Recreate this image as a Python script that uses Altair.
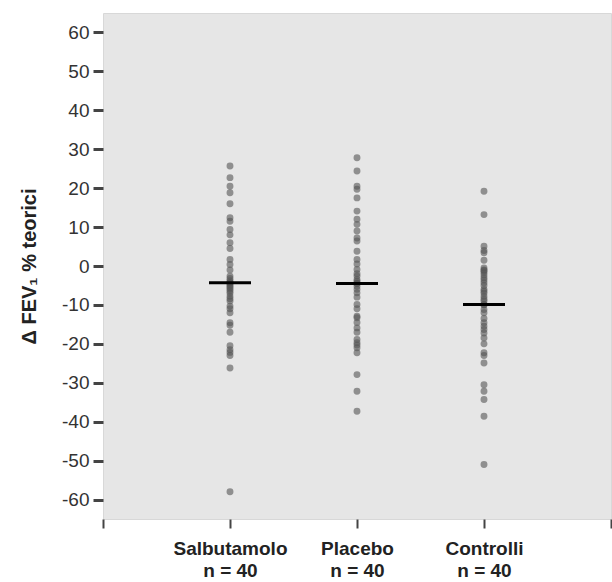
import altair as alt
import pandas as pd

groups = ["Salbutamolo", "Placebo", "Controlli"]
group_pos = [1, 2, 3]
n_labels = ["n = 40", "n = 40", "n = 40"]

salbutamolo = [25.7, 22.7, 18.8, 16.0, 12.4, 11.5, 9.4, 8.0, 6.0, 4.5, 1.7, 0.4, -1.0, -2.6,
               -3.2, -3.8, -4.3, -4.3, -4.8, -5.2, -5.6, -6.0, -6.5, -7.0, -7.8, -8.4, -9.0,
               -10.3, -11.0, -12.0, -14.6, -15.2, -17.0, -20.5, -21.5, -22.2, -23.0, -26.2,
               -58.0, 20.5]
placebo = [27.8, 24.4, 20.5, 19.7, 17.5, 14.1, 12.0, 10.7, 9.0, 7.2, 6.4, 3.8, 1.7, 0.5,
           -0.9, -2.0, -2.6, -3.5, -4.0, -4.5, -4.5, -5.2, -6.0, -6.9, -8.0, -9.9, -11.0,
           -12.9, -13.3, -15.9, -17.0, -18.9, -19.7, -21.0, -22.3, -27.9, -32.2, -37.3,
           -14.5, -20.3]
controlli = [19.2, 13.2, 5.1, 4.0, 3.4, 1.5, -0.5, -1.0, -1.7, -2.3, -3.0, -3.6, -4.3, -5.0,
             -6.0, -7.0, -7.8, -8.5, -9.0, -9.9, -10.0, -11.2, -12.0, -13.5, -14.6, -15.5,
             -16.3, -17.2, -18.5, -22.3, -23.0, -24.9, -30.5, -32.2, -34.3, -38.6, -51.0,
             -1.2, -6.5, -20.0]
medians = [-4.3, -4.5, -9.9]

y_ticks = [-60, -50, -40, -30, -20, -10, 0, 10, 20, 30, 40, 50, 60]
x_ticks = [0, 1, 2, 3, 4]

rows = []
for g, p, vals in zip(groups, group_pos, [salbutamolo, placebo, controlli]):
    for v in vals:
        rows.append({"group": g, "pos": p, "value": v})
df = pd.DataFrame(rows)
med_df = pd.DataFrame({"group": groups, "pos": group_pos, "median": medians})

label_expr = ("datum.value == 1 ? ['Salbutamolo', 'n = 40'] : "
              "datum.value == 2 ? ['Placebo', 'n = 40'] : "
              "datum.value == 3 ? ['Controlli', 'n = 40'] : ''")

x_enc = alt.X("pos:Q", scale=alt.Scale(domain=[0, 4], nice=False, zero=False),
              axis=alt.Axis(values=x_ticks, labelExpr=label_expr, title=None,
                            domain=False, grid=False, tickSize=9, tickWidth=2,
                            tickColor="#444", labelFontSize=19, labelFontWeight="bold",
                            labelColor="#222", labelPadding=11, labelLineHeight=22,
                            labelFont="Liberation Sans", labelBaseline="top"))
y_enc = alt.Y("value:Q", scale=alt.Scale(domain=[-65, 65], nice=False, zero=False),
              axis=alt.Axis(values=y_ticks, title="Δ FEV₁ % teorici", domain=False,
                            labelExpr="toString(datum.value)",
                            grid=False, tickSize=10, tickWidth=3, tickColor="#444",
                            labelFontSize=19, labelColor="#333", labelPadding=4,
                            labelFont="Liberation Sans", titleFont="Liberation Sans",
                            titleFontSize=20, titleFontWeight="bold", titleColor="#222",
                            titlePadding=22))

points = alt.Chart(df).mark_circle(size=48, color="#555", opacity=0.6).encode(
    x=x_enc, y=y_enc)

med = alt.Chart(med_df).mark_tick(orient="horizontal", size=42, thickness=3,
                                  color="#000", opacity=1).encode(
    x=alt.X("pos:Q"), y=alt.Y("median:Q"))

chart = (points + med).properties(
    width=508, height=506,
    padding={"left": 103, "top": 13, "right": 1, "bottom": 63},
    autosize=alt.AutoSizeParams(type="none"),
    background="white",
).configure_view(fill="#e6e6e6", stroke="#d8d8d8")

chart.save("out.html", embed_options={"renderer": "svg", "actions": False})
